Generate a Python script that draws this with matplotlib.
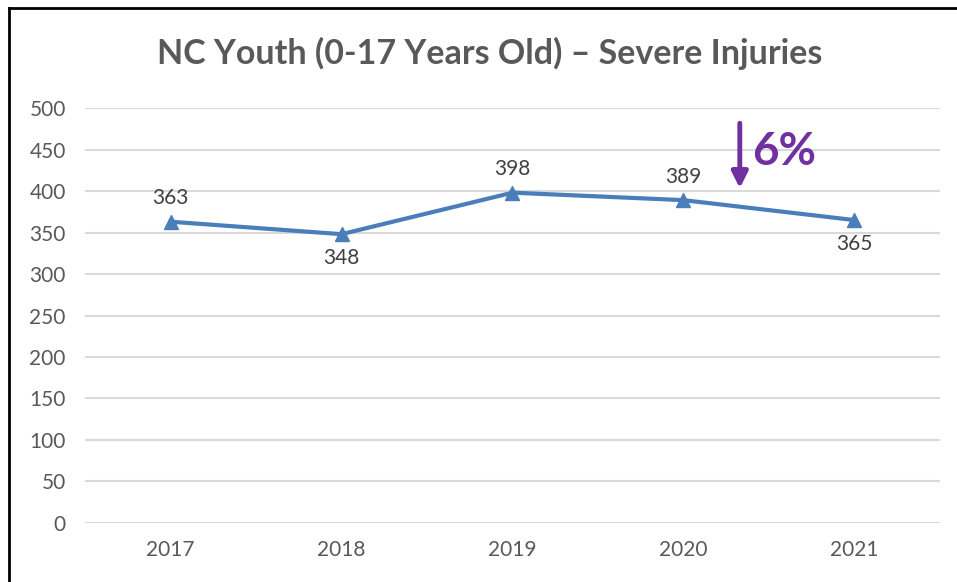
import matplotlib.pyplot as plt
from matplotlib.lines import Line2D

# 数据
years = ["2017", "2018", "2019", "2020", "2021"]
injuries = [363, 348, 398, 389, 365]
label_pos = ["above", "below", "above", "above", "below"]
y_ticks = [0, 50, 100, 150, 200, 250, 300, 350, 400, 450, 500]

plt.rcParams['font.family'] = ['Lato', 'DejaVu Sans']

fig = plt.figure(figsize=(9.57, 5.82), dpi=100)
ax = fig.add_axes([0.089, 0.1014, 0.893, 0.713])

x = list(range(len(years)))
ax.plot(x, injuries, color='#4A7EBB', linewidth=3, marker='^', markersize=10,
        zorder=3)

# 数据标签
for xi, v, pos in zip(x, injuries, label_pos):
    dy = 17 if pos == "above" else -17
    ax.annotate(str(v), (xi, v), xytext=(0, dy), textcoords='offset points',
                ha='center', va='center', fontsize=15, color='#404040')

ax.set_xlim(-0.5, len(years) - 0.5)
ax.set_ylim(0, 500)
ax.set_xticks(x)
ax.set_xticklabels(years)
ax.set_yticks(y_ticks)
ax.tick_params(axis='both', length=0, labelsize=15, labelcolor='#595959')
ax.tick_params(axis='x', pad=12)
ax.tick_params(axis='y', pad=14)
ax.grid(axis='y', color='#d9d9d9', linewidth=1.5)
ax.set_axisbelow(True)
for s in ax.spines.values():
    s.set_visible(False)

fig.text(0.512, 0.908, "NC Youth (0-17 Years Old) \u2013 Severe Injuries",
         ha='center', va='center', fontsize=24.5, fontweight='bold', color='#595959')

# 下降箭头和百分比
ax.annotate("", xy=(0.766, 0.80), xytext=(0.766, 0.97), xycoords='axes fraction',
            arrowprops=dict(arrowstyle='-|>', color='#7030A0', lw=3.5,
                            mutation_scale=24))
ax.text(0.78, 0.895, "6%", transform=ax.transAxes, ha='left', va='center',
        fontsize=33, fontweight='bold', color='#7030A0')

# 外框
fig.add_artist(Line2D([0.0095, 0.0095], [0, 0.987], color='black', lw=2))
fig.add_artist(Line2D([0.0095, 1.0], [0.987, 0.987], color='black', lw=2))

fig.savefig("out.png", dpi=100)
